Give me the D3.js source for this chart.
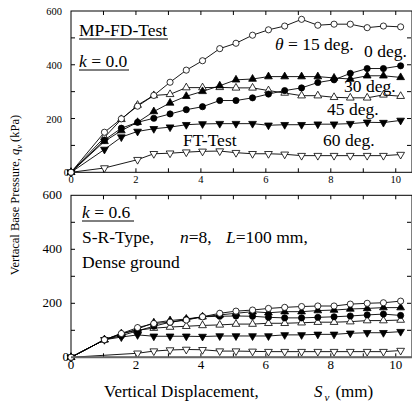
<!DOCTYPE html>
<html>
<head>
<meta charset="utf-8">
<script src="https://cdn.jsdelivr.net/npm/d3@7"></script>
<style>
  body { margin: 0; background: #fff; }
  svg { font-family: "Liberation Serif", "DejaVu Serif", serif; }
</style>
</head>
<body>
<div id="chart"></div>
<script>
const wh = 412, ht = 407;

// displacement (mm) at each reading
const disp = [0, 1.03, 1.55, 2.05, 2.55, 3.05, 3.55, 4.05, 4.58, 5.08, 5.59, 6.08, 6.58, 7.1, 7.6, 8.1, 8.6, 9.12, 9.62, 10.15];

// k = 0.0 panel
const topOpenCircle  = [0, 149, 199, 246, 286, 335, 380, 415, 460, 480, 510, 530, 544, 569, 547, 551, 551, 538, 544, 541];
const topFillCircle  = [0, 120, 164, 186, 201, 217, 233, 244, 267, 267, 277, 291, 304, 314, 334, 344, 368, 386, 386, 396];
const topFillUp      = [0, 115, 155, 186, 226, 258, 283, 301, 322, 344, 347, 356, 356, 356, 356, 351, 347, 359, 359, 353];
const topOpenUp      = [0, 130, 197, 250, 286, 290, 315, 315, 316, 314, 314, 304, 295, 285, 285, 279, 277, 277, 288, 283];
const topFillDown    = [0, 85, 131, 152, 162, 168, 177, 180, 181, 181, 181, 175, 177, 177, 179, 179, 181, 186, 185, 193];
const topOpenDown    = [0, 16, null, 47, 69, 71, 75, 78, 79, 73, 69, 69, 67, 62, 62, 62, 62, 62, 62, 66];

// k = 0.6 panel
const botOpenCircle  = [0, 65, 88, 110, 125, 130, 138, 150, 163, 171, 175, 181, 185, 188, 190, 190, 197, 200, 202, 208];
const botFillUp      = [0, 65, 85, 105, 128, 136, 142, 150, 157, 163, 169, 165, 169, 169, 173, 175, 179, 181, 184, 184];
const botFillCircle  = [0, 65, 80, 98, 115, 130, 140, 150, 152, 153, 152, 148, 146, 146, 148, 150, 153, 157, 160, 155];
const botOpenUp      = [0, 65, 88, 100, 108, 112, 115, 118, 120, 123, 123, 126, 126, 128, 130, 130, 132, 136, 136, 138];
const botFillDown    = [0, 65, 75, 83, 78, 78, 78, 77, 79, 79, 79, 79, 83, 83, 85, 85, 89, 91, 91, 95];
const botOpenDown    = [0, null, null, 15, 23, 27, 29, 28, 23, 23, 22, 21, 21, 21, 21, 21, 21, 21, 21, 25];

const xTicks = [0, 2, 4, 6, 8, 10];
const yTicks = [0, 200, 400, 600];

const markers = [
    {shape: d3.symbolTriangle, rot: 180, fill: "#fff"},
    {shape: d3.symbolTriangle, rot: 180, fill: "#000"},
    {shape: d3.symbolTriangle, rot: 0, fill: "#fff"},
    {shape: d3.symbolTriangle, rot: 0, fill: "#000"},
    {shape: d3.symbolCircle, rot: 0, fill: "#000"},
    {shape: d3.symbolCircle, rot: 0, fill: "#fff"}
];

const svg = d3.select("#chart")
    .append("svg")
    .attr("width", wh)
    .attr("height", ht)

var x = d3.scaleLinear()
        .domain([0, 10.5])
        .range([71, 412])

function drawPanel(top, bottom, series, bigLabels) {
    var y = d3.scaleLinear()
            .domain([0, 600])
            .range([bottom, top])

    var g = svg.append("g")

    // frame
    g.append("rect")
        .attr("x", x(0))
        .attr("y", y(600))
        .attr("width", x(10.5) - x(0))
        .attr("height", y(0) - y(600))
        .attr("fill", "none")
        .attr("stroke", "#000")
        .attr("stroke-width", 1)

    // inward ticks, every unit / every 100 kPa
    var tl = 4
    d3.range(1, 11).forEach(function(v) {
        g.append("line").attr("x1", x(v)).attr("x2", x(v)).attr("y1", y(0)).attr("y2", y(0) - tl).attr("stroke", "#000")
        g.append("line").attr("x1", x(v)).attr("x2", x(v)).attr("y1", y(600)).attr("y2", y(600) + tl).attr("stroke", "#000")
    })
    d3.range(100, 600, 100).forEach(function(v) {
        g.append("line").attr("x1", x(0)).attr("x2", x(0) + tl).attr("y1", y(v)).attr("y2", y(v)).attr("stroke", "#000")
        g.append("line").attr("x1", 411).attr("x2", 411 - tl).attr("y1", y(v)).attr("y2", y(v)).attr("stroke", "#000")
    })

    var fs = bigLabels ? 13 : 10.5

    g.selectAll(".xl").data(xTicks).enter()
        .append("text")
        .attr("x", function(d) { return x(d) })
        .attr("y", y(0) + (bigLabels ? 12 : 11))
        .attr("text-anchor", "middle")
        .attr("font-size", fs)
        .text(function(d) { return d })

    g.selectAll(".yl").data(yTicks).enter()
        .append("text")
        .attr("x", function(d) { return d === 0 ? x(0) - 2 : x(0) - 9 })
        .attr("y", function(d) { return y(d) + 4 })
        .attr("text-anchor", "end")
        .attr("font-size", fs)
        .text(function(d) { return d })

    // series
    series.forEach(function(vals, i) {
        var pts = disp.map(function(d, j) { return [d, vals[j]] })
                      .filter(function(p) { return p[1] !== null })
        g.append("path")
            .attr("d", d3.line().x(function(p) { return x(p[0]) }).y(function(p) { return y(p[1]) })(pts))
            .attr("fill", "none")
            .attr("stroke", "#000")
            .attr("stroke-width", 0.9)
        var m = markers[i]
        g.selectAll(".m" + i).data(pts).enter()
            .append("path")
            .attr("d", d3.symbol().type(m.shape).size(m.shape === d3.symbolCircle ? 30 : 26))
            .attr("transform", function(p) {
                return "translate(" + x(p[0]) + "," + y(p[1]) + ") rotate(" + m.rot + ")"
            })
            .attr("fill", m.fill)
            .attr("stroke", "#000")
            .attr("stroke-width", 0.8)
    })
    return y
}

drawPanel(11, 172.3, [topOpenDown, topFillDown, topOpenUp, topFillUp, topFillCircle, topOpenCircle], false)
var yb = drawPanel(195.3, 357.3, [botOpenDown, botFillDown, botOpenUp, botFillUp, botFillCircle, botOpenCircle], true)

// thicker grey baseline on lower panel
svg.append("line")
    .attr("x1", x(0)).attr("x2", 412)
    .attr("y1", yb(0)).attr("y2", yb(0))
    .attr("stroke", "#666")
    .attr("stroke-width", 2)

// annotations
var fsA = 17.5
function label(txt, xx, yy, size) {
    return svg.append("text").attr("x", xx).attr("y", yy).attr("font-size", size || fsA).text(txt)
}
function underline(x1, x2, yy) {
    svg.append("line").attr("x1", x1).attr("x2", x2).attr("y1", yy).attr("y2", yy)
        .attr("stroke", "#000").attr("stroke-width", 1)
}

label("MP-FD-Test", 79, 36)
underline(79, 168, 39)

var k0 = label("", 79, 67)
k0.append("tspan").attr("font-style", "italic").text("k")
k0.append("tspan").text(" = 0.0")
underline(79, 129, 70)

var th = label("", 275, 50)
th.append("tspan").attr("font-style", "italic").text("θ")
th.append("tspan").text(" = 15 deg.")
label("0 deg.", 364, 57)
label("30 deg.", 344, 92)
label("45 deg.", 327, 115)
label("60 deg.", 323, 146)
label("FT-Test", 183, 146)

var k6 = label("", 82, 218)
k6.append("tspan").attr("font-style", "italic").text("k")
k6.append("tspan").text(" = 0.6")
underline(82, 134, 221)

label("S-R-Type,", 82, 243)
var nn = label("", 180, 243)
nn.append("tspan").attr("font-style", "italic").text("n")
nn.append("tspan").text("=8,")
var ll = label("", 226, 243)
ll.append("tspan").attr("font-style", "italic").text("L")
ll.append("tspan").text("=100 mm,")
label("Dense ground", 82, 268)

// axis titles
label("Vertical Displacement,", 104, 397, 17)
var sv = label("", 314, 397, 17)
sv.append("tspan").attr("font-style", "italic").text("S")
sv.append("tspan").attr("font-style", "italic").attr("font-size", 11).attr("dx", 2).attr("dy", 4).text("v")
sv.append("tspan").attr("dx", 6).attr("dy", -4).text("(mm)")

var yt = svg.append("text")
    .attr("transform", "translate(19,195) rotate(-90)")
    .attr("text-anchor", "middle")
    .attr("font-size", 12.5)
yt.append("tspan").text("Vertacal Base Pressure, ")
yt.append("tspan").attr("font-style", "italic").text("q")
yt.append("tspan").attr("font-style", "italic").attr("font-size", 8.5).attr("dy", 3).text("v")
yt.append("tspan").attr("dy", -3).text(" (kPa)")
</script>
</body>
</html>
